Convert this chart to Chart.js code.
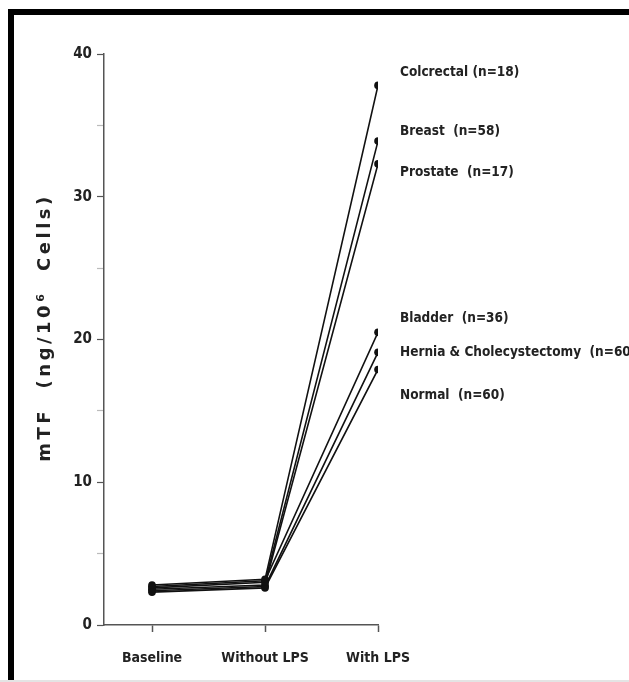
<!DOCTYPE html>
<html>
<head>
<meta charset="utf-8">
<script src="https://cdn.jsdelivr.net/npm/chart.js@4"></script>
<style>
  html, body { margin: 0; padding: 0; background: #fff; }
  #wrap { position: relative; width: 629px; height: 682px; }
</style>
</head>
<body>
<div id="wrap"><canvas id="grafico" width="629" height="682"></canvas></div>
<script>
// categorias del eje x
const categorias = ['Baseline', 'Without LPS', 'With LPS'];

// grupos (etiqueta a la derecha de cada línea)
const grupos = [
    'Colcrectal (n=18)',
    'Breast  (n=58)',
    'Prostate  (n=17)',
    'Bladder  (n=36)',
    'Hernia & Cholecystectomy  (n=60)',
    'Normal  (n=60)'
];

// valores mTF por grupo: Baseline, Without LPS, With LPS
const colorectal = [2.8, 3.2, 37.8];
const breast = [2.6, 3.0, 33.9];
const prostate = [2.5, 2.8, 32.3];
const bladder = [2.7, 3.1, 20.5];
const hernia = [2.4, 2.7, 19.1];
const normal = [2.3, 2.6, 17.9];

// altura (en unidades del eje y) de cada etiqueta
const alturaEtiqueta = [38.7, 34.6, 31.7, 21.5, 19.1, 16.1];

// marcas del eje y
const ticksY = [0, 10, 20, 30, 40];

const series = [colorectal, breast, prostate, bladder, hernia, normal];
const fuente = "'DejaVu Sans Condensed', 'Liberation Sans Narrow', sans-serif";

// marco negro de la figura
const marco = {
    id: 'marco',
    beforeDraw(chart) {
        const ctx = chart.ctx;
        ctx.save();
        ctx.fillStyle = '#fff';
        ctx.fillRect(0, 0, chart.width, chart.height);
        ctx.fillStyle = '#000';
        ctx.fillRect(8, 9, chart.width - 8, 6);
        ctx.fillRect(8, 9, 6, chart.height - 11);
        ctx.fillStyle = '#e4e4e4';
        ctx.fillRect(0, chart.height - 2, chart.width, 2);
        ctx.restore();
    }
};

// etiquetas de los grupos y título del eje y
const etiquetas = {
    id: 'etiquetas',
    afterDatasetsDraw(chart) {
        const ctx = chart.ctx;
        const x = chart.scales.x;
        const y = chart.scales.y;
        ctx.save();
        ctx.fillStyle = '#222';
        ctx.font = `bold 13.5px ${fuente}`;
        ctx.textBaseline = 'middle';
        ctx.textAlign = 'left';
        grupos.forEach((g, i) => {
            ctx.fillText(g, x.getPixelForValue(2) + 22, y.getPixelForValue(alturaEtiqueta[i]));
        });

        // título vertical
        ctx.translate(45, (y.top + y.bottom) / 2 - 12);
        ctx.rotate(-Math.PI / 2);
        ctx.textAlign = 'center';
        ctx.font = "bold 18px 'DejaVu Sans', sans-serif";
        ctx.letterSpacing = '3.5px';
        ctx.fillText('mTF  (ng/10\u2076  Cells)', 0, 0);
        ctx.restore();
    }
};

const datasets = series.map((valores, i) => ({
    label: grupos[i],
    data: valores.map((v, j) => ({ x: j, y: v })),
    borderColor: '#111',
    backgroundColor: '#111',
    borderWidth: 1.6,
    pointRadius: 3.8,
    pointBackgroundColor: '#111',
    pointBorderWidth: 0,
    tension: 0
}));

new Chart(document.getElementById('grafico'), {
    type: 'line',
    data: { datasets: datasets },
    options: {
        responsive: false,
        animation: false,
        layout: { padding: { top: 54, right: 251, left: 0, bottom: 0 } },
        plugins: { legend: { display: false }, tooltip: { enabled: false } },
        scales: {
            x: {
                type: 'linear',
                min: -0.425,
                max: 2,
                afterBuildTicks: scale => { scale.ticks = categorias.map((c, i) => ({ value: i })); },
                afterFit: scale => { scale.height = 57; },
                border: { display: true, color: '#555', width: 1.5 },
                grid: { drawOnChartArea: false, drawTicks: true, tickLength: 7, color: '#555', tickWidth: 1.5 },
                ticks: {
                    callback: v => categorias[v],
                    color: '#222',
                    padding: 18,
                    maxRotation: 0,
                    autoSkip: false,
                    font: { family: fuente, size: 14, weight: 'bold' }
                }
            },
            y: {
                min: 0,
                max: 40,
                afterFit: scale => { scale.width = 104; },
                afterBuildTicks: scale => {
                    const t = [];
                    for (let v = 0; v <= 40; v += 5) t.push({ value: v });
                    scale.ticks = t;
                },
                border: { display: true, color: '#555', width: 1.5 },
                grid: {
                    drawOnChartArea: false,
                    drawTicks: true,
                    tickLength: 7,
                    color: '#555',
                    tickColor: c => (ticksY.includes(c.tick.value) ? '#555' : '#bbb'),
                    tickWidth: 1.2
                },
                ticks: {
                    callback: v => (ticksY.includes(v) ? v : ''),
                    color: '#222',
                    padding: 5,
                    font: { family: fuente, size: 15, weight: 'bold' }
                }
            }
        }
    },
    plugins: [marco, etiquetas]
});
</script>
</body>
</html>
